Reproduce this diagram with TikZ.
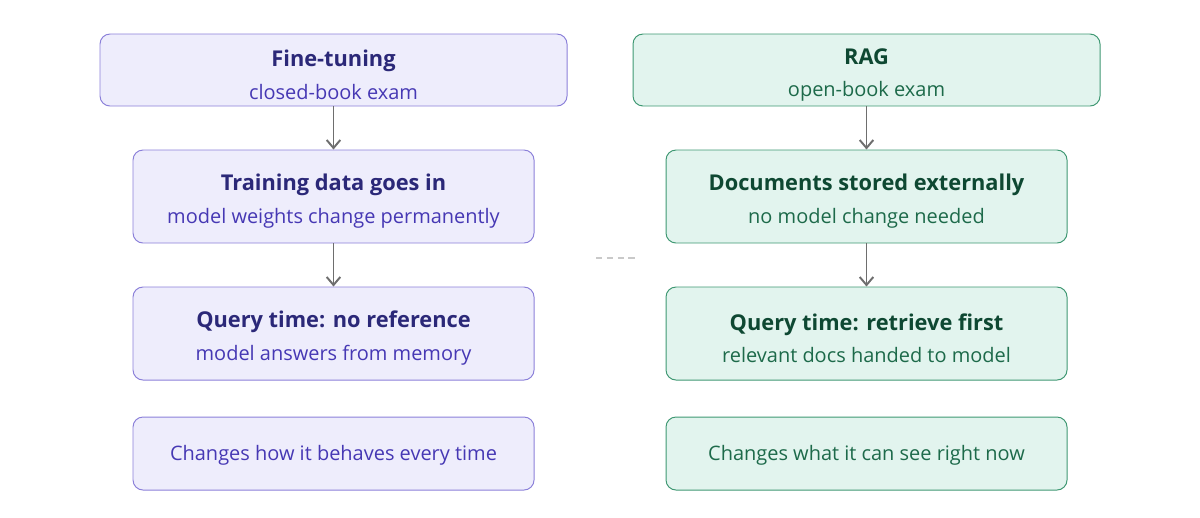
\documentclass[tikz,border=0pt]{standalone}
\usepackage{fontspec}
\setmainfont{Open Sans}
\usetikzlibrary{arrows.meta}

\begin{document}
\begin{tikzpicture}[every node/.style={align=center}]
  \definecolor{lavfill}{HTML}{EEEDFC}
  \definecolor{lavline}{HTML}{8B80D9}
  \definecolor{lavhead}{HTML}{2B2878}
  \definecolor{lavtext}{HTML}{4638B4}
  \definecolor{mintfill}{HTML}{E2F4EE}
  \definecolor{mintline}{HTML}{3F9873}
  \definecolor{minthead}{HTML}{0E4832}
  \definecolor{minttext}{HTML}{1D6A4A}
  \definecolor{flow}{HTML}{6E6E6E}
  \definecolor{rule}{HTML}{C9C9C9}
  \useasboundingbox (0,0) rectangle (30,-12.925);
  \tikzset{
    card/.style={draw,rounded corners=0.25cm,line width=0.7pt,inner sep=0pt,
      font=\fontsize{14.2}{17}\selectfont},
    wide/.style={card,minimum width=11.675cm,minimum height=1.8cm},
    stepbox/.style={card,minimum width=10.025cm,minimum height=2.325cm},
    footbox/.style={card,minimum width=10.025cm,minimum height=1.825cm},
    ft/.style={fill=lavfill,draw=lavline,text=lavtext},
    rag/.style={fill=mintfill,draw=mintline,text=minttext},
    flowarrow/.style={draw=flow,line width=1.4pt,-{Straight Barb[length=0.2cm,width=0.34cm]}}
  }
  % the strut pushes each two-line text a little below the box centre
  \newcommand{\cardhead}[2]{{\fontsize{15.5}{18}\selectfont\bfseries\color{#1}\rule{0pt}{18.5pt}#2}}
  \newcommand{\cardsub}[1]{{\fontsize{14.2}{17}\selectfont #1}}
  % Fine-tuning column.
  \node[wide,ft] (ftTop) at (8.3375,-1.75) {\cardhead{lavhead}{Fine-tuning}\\[6pt]\cardsub{closed-book exam}};
  \node[stepbox,ft] (ftData) at (8.3375,-4.9125) {\cardhead{lavhead}{Training data goes in}\\[6pt]\cardsub{model weights change permanently}};
  \node[stepbox,ft] (ftQuery) at (8.3375,-8.3375) {\cardhead{lavhead}{Query time: no reference}\\[6pt]\cardsub{model answers from memory}};
  \node[footbox,ft] (ftSum) at (8.3375,-11.3375) {\cardsub{\rule{0pt}{13pt}Changes how it behaves every time}};
  % RAG column.
  \node[wide,rag] (ragTop) at (21.6625,-1.75) {\cardhead{minthead}{RAG}\\[6pt]\cardsub{open-book exam}};
  \node[stepbox,rag] (ragDocs) at (21.6625,-4.9125) {\cardhead{minthead}{Documents stored externally}\\[6pt]\cardsub{no model change needed}};
  \node[stepbox,rag] (ragQuery) at (21.6625,-8.3375) {\cardhead{minthead}{Query time: retrieve first}\\[6pt]\cardsub{relevant docs handed to model}};
  \node[footbox,rag] (ragSum) at (21.6625,-11.3375) {\cardsub{\rule{0pt}{13pt}Changes what it can see right now}};
  % Flow down each column.
  \draw[flowarrow] (ftTop) -- (ftData);
  \draw[flowarrow] (ftData) -- (ftQuery);
  \draw[flowarrow] (ragTop) -- (ragDocs);
  \draw[flowarrow] (ragDocs) -- (ragQuery);
  % Faint divider between the two columns.
  \coordinate (gapL) at (14.9,-6.45);
  \coordinate (gapR) at (15.925,-6.45);
  \draw[rule,line width=1pt,dash pattern=on 4.3pt off 3.4pt] (gapL) -- (gapR);
\end{tikzpicture}
\end{document}
